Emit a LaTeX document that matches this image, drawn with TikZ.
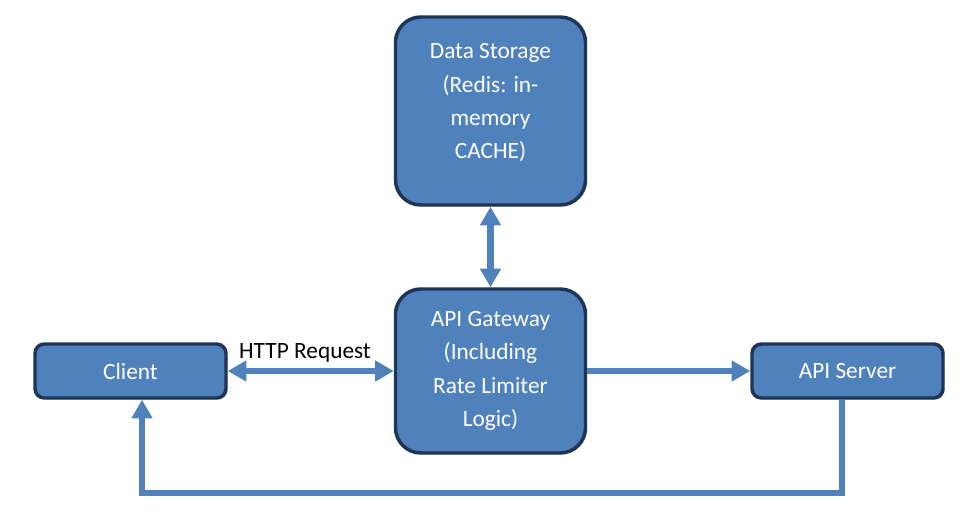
\documentclass[tikz,border=0pt]{standalone}
\usepackage{fontspec}
\setmainfont{Carlito}
\usetikzlibrary{arrows.meta,shadows}
\definecolor{boxfill}{HTML}{4F81BD}
\definecolor{boxline}{HTML}{1F3556}
\definecolor{conncol}{HTML}{4F81BD}
\begin{document}
\begin{tikzpicture}[x=0.75pt,y=-0.75pt,
  box/.style={draw=boxline, fill=boxfill, line width=2.6pt, text=white, align=center,
    font=\fontsize{17.5}{25}\selectfont, inner sep=0pt,
    drop shadow={shadow xshift=1.2pt, shadow yshift=-1.2pt, opacity=0.18, fill=black}},
  bigbox/.style={box, rounded corners=19pt},
  smallbox/.style={box, rounded corners=7pt},
  boxtext/.style={text=white, align=center, font=\fontsize{17.5}{25}\selectfont, inner sep=0pt},
  link/.style={draw=conncol, line width=4.6pt},
  tipend/.style={-{Triangle[length=14pt,width=15pt]}},
  tipboth/.style={{Triangle[length=14pt,width=15pt]}-{Triangle[length=14pt,width=15pt]}},
  lbl/.style={font=\fontsize{17.5}{21}\selectfont, text=black, inner sep=0pt}
]
\useasboundingbox (0,0) rectangle (958,531);

\node[bigbox, minimum width=142.5pt, minimum height=141pt] (ds) at (490.5,111) {};
\node[boxtext] (dstext) at ([yshift=6pt]ds.center)
  {Data Storage\\(Redis: in-\\memory\\CACHE)};
\node[bigbox, minimum width=142.5pt, minimum height=123pt] (gw) at (490.5,371)
  {API Gateway\\(Including\\Rate Limiter\\Logic)};
\node[smallbox, minimum width=143.25pt, minimum height=40.5pt] (cl) at (130.5,371) {Client};
\node[smallbox, minimum width=143.25pt, minimum height=40.5pt] (srv) at (847.5,371) {API Server};

\draw[link, tipboth] (ds.south) -- (gw.north);
\draw[link, tipboth] (cl.east) -- (gw.west);
\node[lbl] (http) at (305,353) {HTTP Request};
\draw[link, tipend] (gw.east) -- (srv.west);

\coordinate (rb) at (842,493);
\coordinate (lb) at (142,493);
\draw[link, tipend] (srv.south -| rb) -- (rb) -- (lb) -- (cl.south -| lb);
\end{tikzpicture}
\end{document}
